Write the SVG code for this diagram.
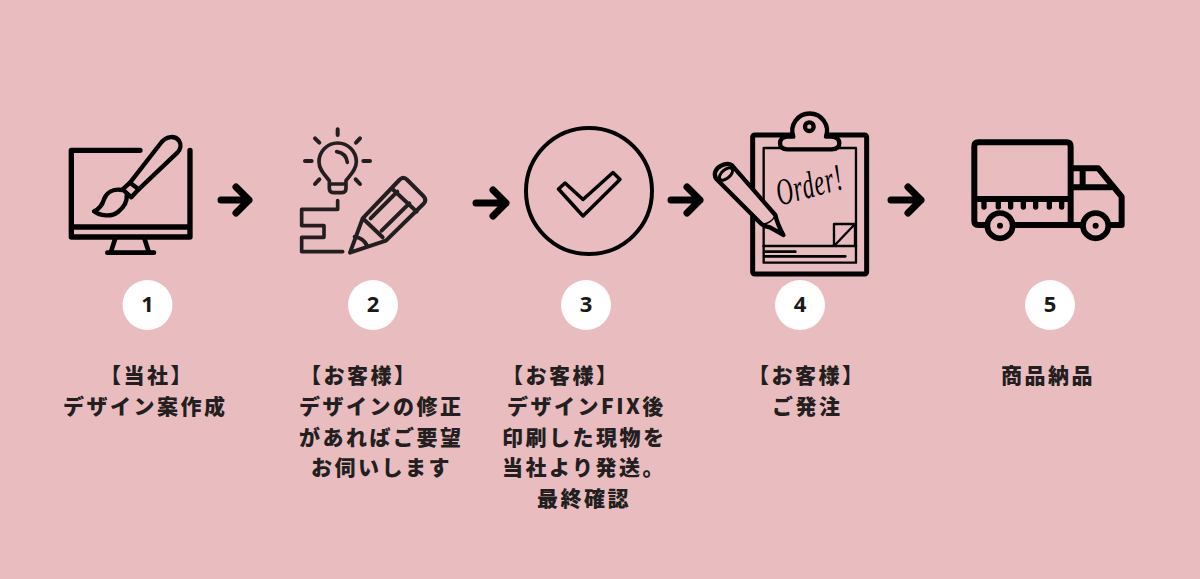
<svg xmlns="http://www.w3.org/2000/svg" width="1200" height="579" viewBox="0 0 1200 579">
<defs>
<style>
.ln{fill:none;stroke:#000;stroke-linecap:round;stroke-linejoin:round}
.pk{fill:#e9bdbf;stroke:#000;stroke-linecap:round;stroke-linejoin:round}
.dk{fill:none;stroke:#231f20;stroke-linecap:round;stroke-linejoin:round}
.arrow{fill:none;stroke:#000;stroke-width:7;stroke-linecap:round;stroke-linejoin:round}
.badge{fill:#fff}
.num{font-family:"Noto Sans","Noto Sans CJK JP",sans-serif;font-weight:700;font-size:22px;fill:#1a1a1a;text-anchor:middle}
.t{font-family:"Noto Sans CJK JP","Noto Sans",sans-serif;font-weight:900;font-size:21px;letter-spacing:2.500px;fill:#231f20}
</style>
</defs>
<rect width="1200" height="579" fill="#e9bdbf"/>
<g id="connectors">
<path class="arrow" d="M221 200H249M236 187L249 200L236 213"/>
<path class="arrow" d="M476 203H506M493 190L506 203L493 216"/>
<path class="arrow" d="M671 200H700M687 187L700 200L687 213"/>
<path class="arrow" d="M891 200H921M908 187L921 200L908 213"/>
</g>
<g id="step1">
<g transform="translate(50 110) scale(.3333)">
<path class="ln" stroke-width="16" d="M270 121H64V381H420V121M64 351H420"/>
<path class="ln" stroke-width="14" d="M196 385L182 428M283 385L297 428M172 428H312"/>
<path class="ln" stroke-width="13" d="M240 218L335 96C350 78 375 76 387 92C395 104 392 118 382 128L266 238Z"/>
<path class="ln" stroke-width="13" d="M240 218L218 238L244 262L266 238"/>
<path class="ln" stroke-width="13" d="M216 240C190 236 170 246 162 268C156 288 146 298 132 304C150 318 184 322 204 306C224 290 232 272 230 256"/>
</g>
<circle class="badge" cx="147.500" cy="305" r="25"/>
<text class="num" x="147.500" y="312">1</text>
<text class="t"><tspan x="100" y="383">【当社】</tspan><tspan x="63" y="414">デザイン案作成</tspan></text>
</g>
<g id="step2">
<g transform="translate(280 110) scale(.3333)">
<path class="dk" stroke-width="12" d="M173 58V75M105 85L118 98M240 85L228 98M75 153H95M250 153H270M105 222L118 208M240 222L227 208"/>
<path class="dk" stroke-width="11" d="M148 212C135 195 117 180 117 155A56 56 0 0 1 229 155C229 180 210 195 198 212V235Q198 248 186 248H160Q148 248 148 235ZM148 222H198M170 125C188 128 200 140 202 157"/>
<path class="dk" stroke-width="11" d="M173 272V298H65V347H132V382H65V425H188"/>
<path class="dk" stroke-width="12" d="M248 325L358 210Q370 198 382 210L430 258Q442 270 430 282L318 392L210 428ZM248 325L308 382M335 235L410 305M272 325L352 245M305 362L388 280M224 380Q250 385 260 405"/>
</g>
<circle class="badge" cx="373" cy="305" r="25"/>
<text class="num" x="373" y="312">2</text>
<text class="t"><tspan x="300" y="383">【お客様】</tspan><tspan x="299" y="414">デザインの修正</tspan><tspan x="299" y="445">があればご要望</tspan><tspan x="311" y="475">お伺いします</tspan></text>
</g>
<g id="step3">
<circle class="ln" stroke-width="4" cx="589" cy="191" r="63"/>
<path class="ln" stroke-width="3.500" d="M558.500 189L565 183L583 199.500L613 172.500L620 179.500L583 216Z"/>
<circle class="badge" cx="586" cy="305" r="25"/>
<text class="num" x="586" y="312">3</text>
<text class="t"><tspan x="502" y="383">【お客様】</tspan><tspan x="507" y="414">デザインFIX後</tspan><tspan x="502" y="445">印刷した現物を</tspan><tspan x="502" y="475">当社より発送。</tspan><tspan x="537" y="506">最終確認</tspan></text>
</g>
<g id="step4">
<g transform="translate(700 100) scale(.3333)">
<rect class="ln" stroke-width="15" x="158" y="105" width="342" height="417" rx="6"/>
<rect class="ln" stroke-width="7" x="191" y="144" width="277" height="344"/>
<path class="pk" stroke-width="13" d="M280 110A52 52 0 1 1 378 110H395Q418 112 418 130Q418 148 395 148H262Q240 148 240 130Q240 112 262 110Z"/>
<circle class="ln" stroke-width="13" cx="328" cy="80" r="13"/>
<path class="ln" stroke-width="8" d="M191 438H468M195 455H286M195 469H436"/>
<path class="ln" stroke-width="7" d="M402 435V372H465L405 435M465 382V434"/>
<path class="pk" stroke-width="13" d="M96 196L226 345Q232 372 250 405L210 382Q190 378 182 370L50 238C38 222 48 205 62 198C76 190 88 190 96 196Z"/>
<ellipse class="ln" stroke-width="9" cx="78" cy="222" rx="24" ry="13" transform="rotate(-42 78 222)"/>
<path class="ln" stroke-width="4" d="M186 372Q212 372 226 347"/>
<path d="M234 386L254 408L224 392Z"/>
<text transform="rotate(-15 330 262) translate(330 292) scale(.88 1.450)" text-anchor="middle" font-family="'Liberation Serif',serif" font-style="italic" font-size="78" letter-spacing="3" fill="#000">Order!</text>
</g>
<circle class="badge" cx="800" cy="305" r="25"/>
<text class="num" x="800" y="312">4</text>
<text class="t"><tspan x="748" y="383">【お客様】</tspan><tspan x="772" y="414">ご発注</tspan></text>
</g>
<g id="step5">
<g transform="translate(880 125) scale(.3333)">
<path class="ln" stroke-width="18" d="M315 300H295Q283 300 283 288V64Q283 52 295 52H560Q572 52 572 64V300M283 222H572M405 300H610M690 300H725V215L655 130H572M572 187H692M608 130V187"/>
<path class="ln" stroke-width="16" d="M312 232V246M355 232V246M392 232V246M430 232V246M467 232V246M508 232V246M545 232V246"/>
<circle class="pk" stroke-width="17" cx="360" cy="302" r="38"/>
<circle cx="360" cy="302" r="9"/>
<circle class="pk" stroke-width="17" cx="647" cy="302" r="38"/>
<circle cx="647" cy="302" r="9"/>
</g>
<circle class="badge" cx="1050" cy="305" r="25"/>
<text class="num" x="1050" y="312">5</text>
<text class="t"><tspan x="1001" y="383">商品納品</tspan></text>
</g>
</svg>
